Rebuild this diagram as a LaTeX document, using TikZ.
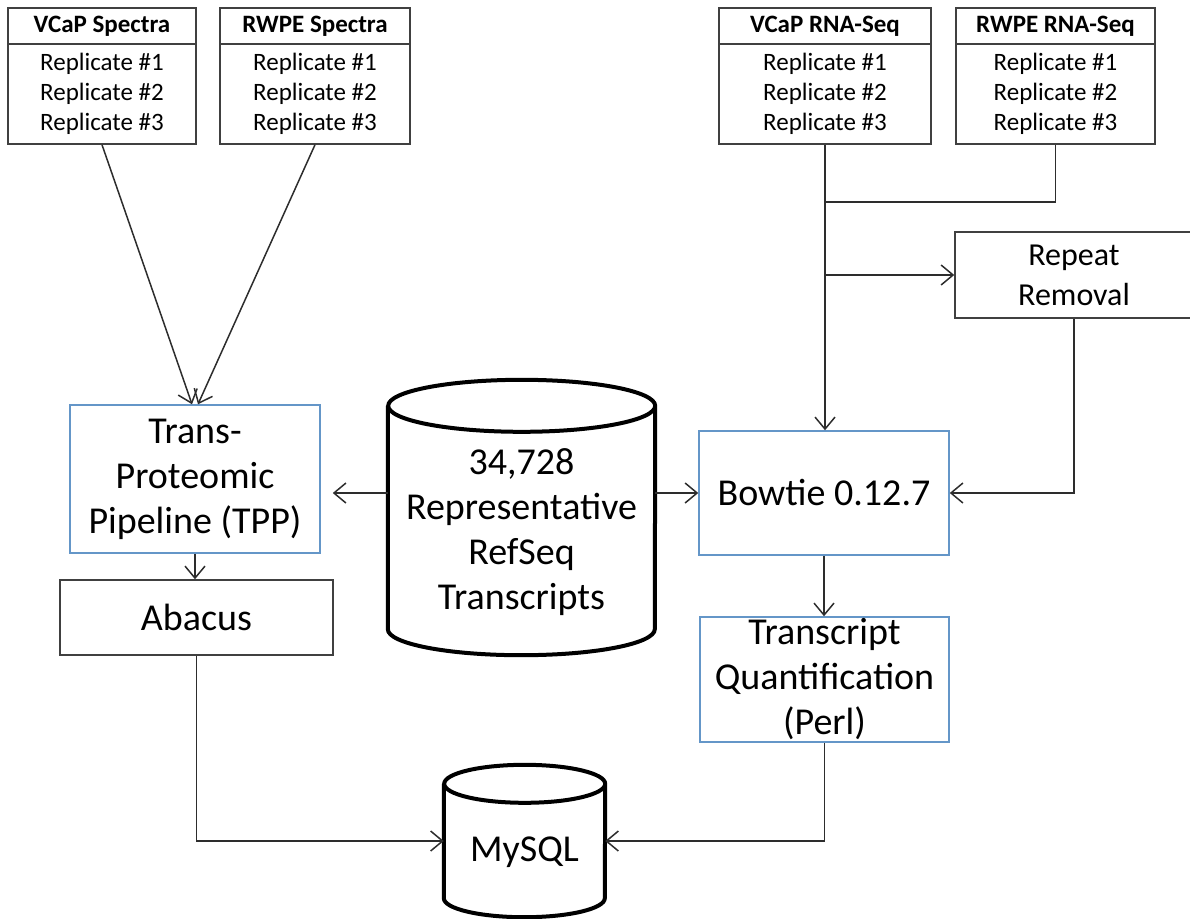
\documentclass[tikz,border=0pt]{standalone}
\usepackage{fontspec}
\setmainfont{Carlito}
\usepackage{xcolor}
\usetikzlibrary{arrows.meta}
\definecolor{boxgray}{RGB}{64,64,64}
\definecolor{boxblue}{RGB}{100,150,200}
\definecolor{linegray}{RGB}{45,45,45}

\begin{document}
\begin{tikzpicture}[x=1pt, y=-1pt,
  box/.style={draw=boxgray, line width=1.5pt, inner sep=0pt},
  bluebox/.style={draw=boxblue, line width=1.5pt, inner sep=0pt},
  hdr/.style={box, minimum height=36pt, font=\fontsize{25}{29}\selectfont\bfseries},
  reps/.style={box, minimum height=100pt, align=center, font=\fontsize{25}{30}\selectfont},
  big/.style={align=center, font=\fontsize{38}{45}\selectfont},
  cyl/.style={line width=4pt, black},
  ln/.style={line width=1.5pt, draw=linegray},
  arr/.style={ln, -{Straight Barb[length=12pt,width=20pt]}}]
\useasboundingbox (0,0) rectangle (1190,918);
%Inputs
\node[hdr, minimum width=188pt] (vcapspecT) at (102,26) {VCaP Spectra};
\node[reps, minimum width=188pt] (vcapspec) at (102,94) {Replicate \#1\\Replicate \#2\\Replicate \#3};
\node[hdr, minimum width=190pt] (rwpespecT) at (315,26) {RWPE Spectra};
\node[reps, minimum width=190pt] (rwpespec) at (315,94) {Replicate \#1\\Replicate \#2\\Replicate \#3};
\node[hdr, minimum width=212pt] (vcaprnaT) at (825,26) {VCaP RNA-Seq};
\node[reps, minimum width=212pt] (vcaprna) at (825,94) {Replicate \#1\\Replicate \#2\\Replicate \#3};
\node[hdr, minimum width=199pt] (rwpernaT) at (1055.5,26) {RWPE RNA-Seq};
\node[reps, minimum width=199pt] (rwperna) at (1055.5,94) {Replicate \#1\\Replicate \#2\\Replicate \#3};
%Processing
\node[bluebox, big, minimum width=250pt, minimum height=148pt] (tpp) at (195,479) {Trans-\\Proteomic\\Pipeline (TPP)};
\node[box, big, minimum width=273pt, minimum height=75pt] (abacus) at (196.5,617.5) {Abacus};
\node[box, align=center, font=\fontsize{32}{40}\selectfont, minimum width=238pt, minimum height=86pt] (repeat) at (1074,275) {Repeat\\Removal};
\node[bluebox, big, minimum width=250pt, minimum height=124pt] (bowtie) at (824,493) {Bowtie 0.12.7};
\node[bluebox, big, minimum width=249pt, minimum height=125pt] (quant) at (824.5,679.5) {Transcript\\Quantification\\(Perl)};
%Databases
\node[minimum width=267pt, minimum height=275pt] (refseq) at (521.5,517.5) {};
\node[big] (refseqtxt) at (521.5,532) {34,728\\Representative\\RefSeq\\Transcripts};
\draw[cyl] ([yshift=-26pt]refseq.north west) -- ([yshift=26pt]refseq.south west)
  arc[start angle=180, end angle=360, x radius=133.5pt, y radius=26pt]
  -- ([yshift=-26pt]refseq.north east)
  arc[start angle=0, end angle=180, x radius=133.5pt, y radius=26pt]
  arc[start angle=180, end angle=360, x radius=133.5pt, y radius=26pt];
\node[minimum width=161pt, minimum height=152pt] (mysql) at (524.5,841) {};
\node[big] (mysqltxt) at (524.5,852) {MySQL};
\draw[cyl] ([yshift=-19pt]mysql.north west) -- ([yshift=19pt]mysql.south west)
  arc[start angle=180, end angle=360, x radius=80.5pt, y radius=19pt]
  -- ([yshift=-19pt]mysql.north east)
  arc[start angle=0, end angle=180, x radius=80.5pt, y radius=19pt]
  arc[start angle=180, end angle=360, x radius=80.5pt, y radius=19pt];
%Connectors
\draw[arr] (vcapspec.south) -- ([xshift=-3pt]tpp.north);
\draw[arr] (rwpespec.south) -- ([xshift=3pt]tpp.north);
\draw[arr] (tpp.south) -- (tpp.south |- abacus.north);
\draw[arr, shorten >=12pt] (refseq.west |- bowtie.west) -- (tpp.east |- bowtie.west);
\draw[arr] (refseq.east |- bowtie.west) -- (bowtie.west);
\draw[arr] (abacus.south) |- (mysql.west);
\draw[arr] (vcaprna.south) -- (vcaprna.south |- bowtie.north);
\coordinate (merge) at (vcaprna.south |- 0,202);
\draw[ln] (rwperna.south) |- (merge);
\draw[arr] (vcaprna.south |- repeat.west) -- (repeat.west);
\draw[arr] (repeat.south) |- (bowtie.east);
\draw[arr] (bowtie.south) -- (bowtie.south |- quant.north);
\draw[arr] (quant.south) |- (mysql.east);
\end{tikzpicture}
\end{document}
